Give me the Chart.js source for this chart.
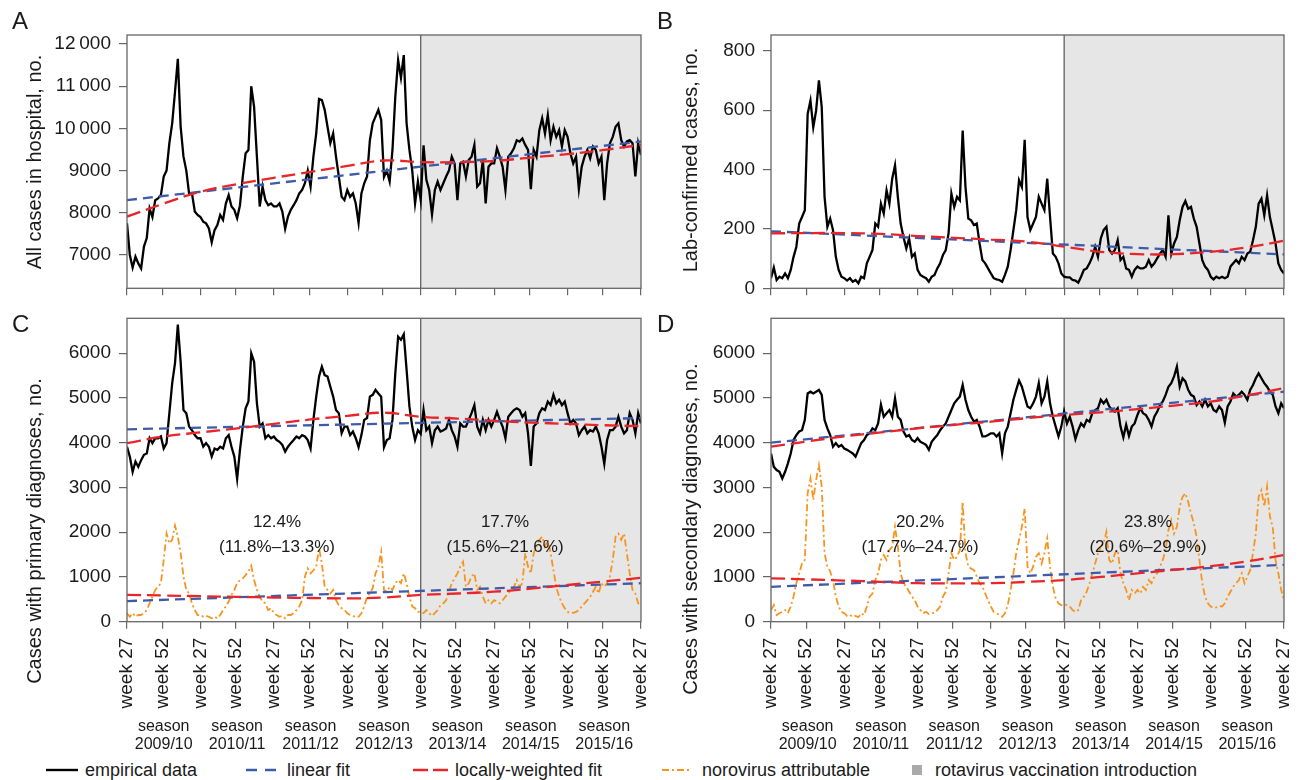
<!DOCTYPE html>
<html>
<head>
<meta charset="utf-8">
<script src="https://cdn.jsdelivr.net/npm/chart.js@4.4.1/dist/chart.umd.min.js"></script>
<style>
  body { margin: 0; background: #fff; font-family: 'Liberation Sans', Arial, Helvetica, sans-serif; color: #1a1a1a; }
  #fig { position: relative; width: 1298px; height: 780px; overflow: hidden; }
  canvas { position: absolute; }
  .t { position: absolute; white-space: nowrap; line-height: 1; }
  .letter { font-size: 24px; line-height: 24px; }
  .ytitle { font-size: 20px; line-height: 20px; transform: translate(-50%, -50%) rotate(-90deg); }
  .note { font-size: 17px; line-height: 25px; text-align: center; transform: translateX(-50%); }
  .season { font-size: 16px; line-height: 18px; text-align: center; transform: translateX(-50%); }
  .leg { font-size: 18px; line-height: 20px; top: 760px; }
  svg { position: absolute; }
</style>
</head>
<body>
<div id="fig">
  <canvas id="chartA" width="649" height="300" style="left:0;top:0"></canvas>
  <canvas id="chartB" width="649" height="300" style="left:649px;top:0"></canvas>
  <canvas id="chartC" width="649" height="420" style="left:0;top:300px"></canvas>
  <canvas id="chartD" width="649" height="420" style="left:649px;top:300px"></canvas>

  <div class="t letter" style="left:12px;top:9px">A</div>
  <div class="t letter" style="left:657px;top:9px">B</div>
  <div class="t letter" style="left:12px;top:312px">C</div>
  <div class="t letter" style="left:657px;top:312px">D</div>

  <div class="t ytitle" style="left:34px;top:162px">All cases in hospital, no.</div>
  <div class="t ytitle" style="left:690px;top:160px">Lab-confirmed cases, no.</div>
  <div class="t ytitle" style="left:34px;top:531px">Cases with primary diagnoses, no.</div>
  <div class="t ytitle" style="left:690px;top:529px">Cases with secondary diagnoses, no.</div>

  <div class="t note" style="left:277px;top:509px">12.4%<br>(11.8%–13.3%)</div>
  <div class="t note" style="left:505px;top:509px">17.7%<br>(15.6%–21.6%)</div>
  <div class="t note" style="left:920px;top:509px">20.2%<br>(17.7%–24.7%)</div>
  <div class="t note" style="left:1148px;top:509px">23.8%<br>(20.6%–29.9%)</div>

  <div id="seasonRow"></div>

  <svg style="left:46px;top:760px" width="34" height="20"><line x1="0" y1="10" x2="32" y2="10" stroke="#000" stroke-width="2.4"/></svg>
  <div class="t leg" style="left:85px">empirical data</div>
  <svg style="left:246px;top:760px" width="32" height="20"><line x1="0" y1="10" x2="30" y2="10" stroke="#3d5ba9" stroke-width="2.4" stroke-dasharray="11 8"/></svg>
  <div class="t leg" style="left:287px">linear fit</div>
  <svg style="left:413px;top:760px" width="38" height="20"><line x1="0" y1="10" x2="35" y2="10" stroke="#e8262a" stroke-width="2.4" stroke-dasharray="15 5"/></svg>
  <div class="t leg" style="left:455px">locally-weighted fit</div>
  <svg style="left:662px;top:760px" width="32" height="20"><line x1="0" y1="10" x2="29" y2="10" stroke="#f7941d" stroke-width="2" stroke-dasharray="7 3 2 3"/></svg>
  <div class="t leg" style="left:702px">norovirus attributable</div>
  <svg style="left:912px;top:760px" width="12" height="20"><rect x="0" y="5" width="10" height="10" fill="#aaaaaa"/></svg>
  <div class="t leg" style="left:935px">rotavirus vaccination introduction</div>
</div>

<script>
// x = weeks since week 27 of 2009, values read every second week
var weekStep = 2;
var lastWeek = 364;
var vaccStart = 208;   // week 27 of 2013
var tickWeeks = [0, 25, 52, 77, 104, 129, 156, 181, 208, 233, 260, 285, 312, 337, 364];
var tickLabels = ['week 27', 'week 52', 'week 27', 'week 52', 'week 27', 'week 52', 'week 27', 'week 52',
                  'week 27', 'week 52', 'week 27', 'week 52', 'week 27', 'week 52', 'week 27'];
var seasons = ['2009/10', '2010/11', '2011/12', '2012/13', '2013/14', '2014/15', '2015/16'];

var ticksA = [7000, 8000, 9000, 10000, 11000, 12000];
var ticksB = [0, 200, 400, 600, 800];
var ticksCD = [0, 1000, 2000, 3000, 4000, 5000, 6000];

// A: all cases in hospital
var allCases = [
  7750, 7000, 6700, 6960, 6800, 6680, 7200, 7400, 8100, 7900, 8300, 8340, 8420, 8860, 9000, 9650, 10120, 10870, 11650, 10040, 9330, 9000, 8450, 8460, 8030, 7950,
  7900, 7790, 7750, 7630, 7300, 7590, 7710, 7950, 7830, 8220, 8420, 8150, 8070, 7870, 8180, 8860, 9410, 9490, 11000, 10510, 9330, 8150, 8620, 8300, 8180, 8220,
  8150, 8150, 8220, 8030, 7620, 7910, 8070, 8180, 8300, 8460, 8540, 8700, 9000, 8620, 9330, 9880, 10700, 10670, 10440, 10040, 9650, 9880, 9330, 8860, 8380, 8300,
  8540, 8380, 8460, 8220, 7760, 8460, 8700, 8860, 9720, 10120, 10280, 10440, 10200, 8850, 9000, 8740, 9490, 10750, 11620, 11200, 11740, 10120, 9490, 9000, 8220, 8740,
  8300, 9600, 8780, 8540, 7960, 8540, 8740, 8540, 8700, 8860, 9000, 9330, 9170, 8300, 9170, 9210, 8860, 9250, 9330, 9610, 8620, 8700, 9250, 8220, 9090, 9170,
  9170, 9530, 9330, 9090, 8540, 9330, 9410, 9530, 9720, 9690, 9760, 9610, 9490, 8560, 9490, 9330, 9960, 10240, 9880, 10320, 9720, 10040, 9800, 9960, 9570, 9960,
  9800, 9410, 9170, 9330, 8560, 9090, 9330, 9490, 9290, 9570, 9490, 9170, 9330, 8300, 9170, 9650, 9800, 10040, 10120, 9720, 9570, 9690, 9720, 9650, 8860, 9650, 9370
];
// B: lab-confirmed cases
var labCases = [
  34, 70, 28, 39, 34, 50, 34, 62, 106, 140, 218, 240, 263, 587, 632, 542, 598, 700, 610, 308, 207, 235, 196, 106, 62, 39,
  34, 26, 34, 22, 28, 17, 39, 34, 84, 106, 129, 218, 207, 285, 252, 330, 285, 369, 414, 308, 218, 173, 134, 168, 106, 117,
  62, 45, 39, 34, 22, 39, 45, 67, 84, 112, 129, 185, 319, 274, 308, 296, 531, 341, 235, 229, 213, 218, 151, 95, 84, 67,
  50, 34, 30, 28, 22, 45, 73, 129, 196, 263, 364, 341, 500, 240, 196, 218, 240, 308, 285, 263, 369, 240, 117, 106, 84, 50,
  39, 37, 37, 28, 26, 19, 39, 62, 67, 84, 106, 140, 106, 168, 196, 207, 129, 117, 129, 162, 95, 106, 67, 62, 39, 62,
  73, 67, 67, 73, 95, 73, 84, 101, 117, 129, 106, 246, 117, 151, 173, 229, 274, 294, 268, 274, 235, 207, 151, 95, 73, 62,
  39, 30, 39, 34, 39, 34, 39, 73, 84, 95, 84, 106, 95, 117, 123, 162, 207, 285, 302, 246, 313, 240, 196, 151, 84, 62, 50
];
// C: primary diagnoses and norovirus attributable part
var primaryCases = [
  3910, 3690, 3350, 3580, 3460, 3610, 3730, 3760, 4100, 3990, 4100, 4100, 4140, 3870, 3990, 4660, 5330, 5780, 6640, 5800, 4730, 4660, 4360, 4280, 4170, 4100,
  4100, 3910, 3990, 3910, 3690, 3870, 3840, 3910, 3870, 4100, 4170, 3910, 3690, 3190, 3840, 4360, 4770, 4920, 6000, 5810, 4880, 4360, 4430, 4100, 4170, 4100,
  4140, 4060, 4020, 3950, 3800, 3910, 3990, 4060, 4140, 4100, 4170, 4140, 4060, 3870, 4510, 5030, 5480, 5700, 5510, 5480, 5250, 5030, 4730, 4660, 4210, 4360,
  4360, 4170, 4250, 4100, 3900, 4170, 4510, 4550, 5030, 5070, 5180, 5100, 5030, 3900, 4060, 4100, 4510, 5550, 6370, 6300, 6420, 5630, 4810, 4360, 4060, 4280,
  4200, 4730, 4280, 4360, 3990, 4280, 4360, 4250, 4280, 4320, 4510, 4280, 4140, 3910, 4430, 4360, 4360, 4510, 4660, 4840, 4360, 4210, 4510, 4280, 4510, 4360,
  4510, 4690, 4510, 4360, 4100, 4580, 4660, 4730, 4770, 4730, 4580, 4660, 4210, 3480, 4360, 4430, 4660, 4770, 4730, 4920, 4840, 5070, 4880, 4960, 4840, 4920,
  4660, 4430, 4510, 4430, 4170, 4280, 4360, 4210, 4280, 4250, 4360, 4210, 3910, 3530, 4060, 4280, 4280, 4360, 4580, 4360, 4210, 4280, 4660, 4510, 4210, 4660, 4430
];
var primaryNoro = [
  190, 110, 190, 110, 150, 150, 190, 260, 410, 560, 710, 780, 860, 1380, 1970, 1750, 1830, 2150, 1900, 1530, 1010, 710, 630, 410, 260, 150,
  150, 110, 130, 110, 75, 110, 75, 150, 260, 340, 450, 600, 710, 860, 930, 970, 1040, 1120, 1250, 930, 710, 560, 450, 410, 260, 300,
  190, 150, 110, 130, 75, 150, 150, 190, 260, 340, 480, 1010, 1190, 1080, 1150, 1230, 1640, 1300, 780, 710, 630, 710, 480, 370, 300, 260,
  190, 150, 130, 100, 110, 190, 340, 560, 630, 750, 1080, 1230, 1560, 710, 670, 780, 710, 860, 930, 860, 1080, 860, 560, 340, 300, 220,
  230, 190, 260, 190, 130, 190, 260, 370, 410, 480, 670, 860, 970, 1080, 1230, 1340, 780, 860, 1010, 1080, 710, 780, 560, 410, 480, 410,
  480, 450, 410, 480, 560, 630, 710, 780, 930, 780, 860, 1530, 1230, 1080, 1530, 1680, 1830, 1900, 1680, 1830, 1530, 1150, 780, 560, 410, 300,
  220, 190, 200, 220, 260, 340, 410, 480, 560, 670, 780, 630, 860, 780, 860, 1010, 1380, 1900, 1970, 1830, 1970, 1530, 1080, 710, 630, 410, 340
];
// D: secondary diagnoses and norovirus attributable part
var secondaryCases = [
  3760, 3460, 3390, 3350, 3200, 3350, 3540, 3760, 4060, 4170, 4250, 4280, 4510, 5100, 5140, 5100, 5140, 5180, 5070, 4510, 4320, 4170, 3910, 3990, 3910, 3950,
  3870, 3840, 3800, 3760, 3690, 3840, 3990, 4060, 4170, 4210, 4320, 4280, 4430, 4850, 4580, 4660, 4730, 4580, 4990, 4580, 4510, 4250, 4140, 4170, 4060, 4020,
  4100, 4020, 3990, 3950, 3840, 4020, 4100, 4170, 4280, 4360, 4430, 4580, 4730, 4880, 4960, 5030, 5290, 4960, 4730, 4580, 4470, 4510, 4360, 4140, 4140, 4170,
  4210, 4210, 4140, 4210, 3760, 4210, 4360, 4660, 4960, 5180, 5390, 5250, 5030, 4810, 4770, 4880, 5030, 5330, 4880, 5030, 5370, 4880, 4580, 4360, 4140, 4360,
  4700, 4430, 4580, 4360, 4080, 4280, 4430, 4360, 4510, 4470, 4660, 4730, 4770, 4960, 4880, 4960, 4810, 4730, 4690, 4770, 4360, 4120, 4400, 4150, 4360, 4430,
  4620, 4770, 4660, 4620, 4510, 4360, 4580, 4690, 4840, 4920, 5070, 5250, 5330, 5480, 5700, 5250, 5440, 5370, 5180, 5070, 5030, 4840, 4920, 4810, 4960, 4810,
  4880, 4730, 4690, 4810, 4730, 4450, 4810, 4920, 5100, 5030, 5070, 5140, 5070, 4960, 5180, 5290, 5440, 5550, 5440, 5330, 5250, 5140, 5070, 4810, 4660, 4880, 4770
];
var secondaryNoro = [
  260, 370, 150, 190, 220, 260, 190, 340, 560, 860, 1080, 1300, 1380, 2870, 3200, 2720, 3170, 3500, 3020, 1530, 1230, 1120, 930, 560, 340, 220,
  190, 130, 150, 110, 130, 100, 190, 150, 340, 560, 630, 930, 1080, 1380, 1490, 1380, 1600, 1680, 2120, 1680, 1080, 860, 780, 670, 560, 480,
  340, 260, 190, 220, 170, 190, 190, 260, 340, 560, 670, 1080, 1530, 1380, 1450, 1600, 2680, 1530, 1230, 1190, 1150, 1010, 860, 780, 630, 480,
  340, 220, 190, 150, 110, 190, 370, 710, 1080, 1530, 1830, 2120, 2530, 1230, 1080, 1230, 1450, 1530, 1300, 1530, 1860, 1230, 780, 520, 410, 370,
  390, 370, 340, 260, 220, 260, 480, 560, 670, 860, 1080, 1300, 1530, 1680, 1750, 2010, 1380, 1300, 1530, 1600, 1080, 860, 710, 480, 710, 630,
  710, 630, 780, 710, 930, 860, 1010, 1080, 1230, 1380, 1600, 2050, 2270, 1970, 2120, 2570, 2790, 2870, 2680, 2420, 2200, 1900, 1380, 860, 560, 410,
  340, 300, 320, 350, 340, 410, 560, 670, 780, 860, 930, 1080, 860, 1010, 1150, 1530, 1970, 2790, 2940, 2570, 3020, 2350, 2120, 1380, 1080, 710, 480
];

// fitted curves
var linWeeks = [0, 364];
var linA = [8300, 9690];
var linB = [192, 114];
var linC = [4300, 4550];
var linCNoro = [460, 860];
var linD = [4000, 5140];
var linDNoro = [780, 1270];

var loessWeeks = [0, 26, 52, 78, 104, 130, 156, 182, 208, 234, 260, 286, 312, 338, 364];
var loessA = [7910, 8220, 8500, 8680, 8830, 8970, 9110, 9240, 9200, 9200, 9230, 9310, 9390, 9490, 9610];
var loessB = [185, 186, 186, 183, 176, 170, 164, 157, 140, 123, 115, 115, 123, 138, 160];
var loessC = [3990, 4140, 4230, 4320, 4420, 4520, 4600, 4670, 4580, 4540, 4490, 4450, 4420, 4390, 4370];
var loessCNoro = [600, 585, 570, 555, 540, 530, 520, 540, 600, 630, 670, 740, 820, 900, 980];
var loessD = [3910, 4030, 4140, 4230, 4320, 4400, 4470, 4550, 4620, 4680, 4750, 4830, 4920, 5060, 5220];
var loessDNoro = [970, 945, 920, 890, 860, 855, 860, 890, 930, 1000, 1080, 1160, 1240, 1350, 1490];

var FONT = "'Liberation Sans', Arial, Helvetica, sans-serif";

function weekly(values) {
  return values.map(function (v, i) { return {x: i * weekStep, y: v}; });
}
function knots(weeks, values) {
  return weeks.map(function (w, i) { return {x: w, y: values[i]}; });
}
function empirical(values) {
  return {data: weekly(values), borderColor: '#000', borderWidth: 2.3};
}
function noro(values) {
  return {data: weekly(values), borderColor: '#f7941d', borderWidth: 1.8, borderDash: [7, 3, 2, 3]};
}
function linFit(values) {
  return {data: knots(linWeeks, values), borderColor: '#3d5ba9', borderWidth: 2.3, borderDash: [10, 6]};
}
function loessFit(values) {
  return {data: knots(loessWeeks, values), borderColor: '#e8262a', borderWidth: 2.3, borderDash: [14, 6], tension: 0.4};
}

// grey vaccination period + plot frame
var framePlugin = {
  id: 'frame',
  beforeDatasetsDraw: function (chart) {
    var a = chart.chartArea, ctx = chart.ctx;
    var x0 = chart.scales.x.getPixelForValue(vaccStart);
    ctx.save();
    ctx.fillStyle = '#e6e6e6';
    ctx.fillRect(x0, a.top, a.right - x0, a.bottom - a.top);
    ctx.strokeStyle = '#555';
    ctx.lineWidth = 1.2;
    ctx.beginPath();
    ctx.moveTo(x0, a.top);
    ctx.lineTo(x0, a.bottom);
    ctx.stroke();
    ctx.restore();
  },
  afterDraw: function (chart) {
    var a = chart.chartArea, ctx = chart.ctx;
    ctx.save();
    ctx.strokeStyle = '#666';
    ctx.lineWidth = 1.3;
    ctx.strokeRect(a.left, a.top, a.right - a.left, a.bottom - a.top);
    ctx.restore();
  }
};

function makeChart(id, datasets, cfg) {
  return new Chart(document.getElementById(id), {
    type: 'line',
    data: {datasets: datasets},
    options: {
      responsive: false,
      animation: false,
      layout: {padding: {top: cfg.padTop, right: cfg.padRight, left: 0, bottom: 0}},
      elements: {point: {radius: 0}, line: {fill: false}},
      plugins: {legend: {display: false}, tooltip: {enabled: false}},
      scales: {
        x: {
          type: 'linear', min: 0, max: lastWeek,
          afterBuildTicks: function (s) { s.ticks = tickWeeks.map(function (w) { return {value: w}; }); },
          afterFit: function (s) { s.height = cfg.xHeight; s.paddingLeft = 0; s.paddingRight = 0; },
          grid: {drawOnChartArea: false, tickLength: 7, color: '#666', lineWidth: 1.2},
          border: {display: false},
          ticks: {
            display: cfg.weekLabels, autoSkip: false, minRotation: 90, maxRotation: 90, padding: 9,
            color: '#1a1a1a', font: {family: FONT, size: 19},
            callback: function (v, i) { return tickLabels[i]; }
          }
        },
        y: {
          min: cfg.yMin, max: cfg.yMax,
          afterBuildTicks: function (s) { s.ticks = cfg.yTicks.map(function (v) { return {value: v}; }); },
          afterFit: function (s) { s.width = cfg.axisWidth; s.paddingTop = 0; s.paddingBottom = 0; },
          grid: {drawOnChartArea: false, tickLength: 8, color: '#666', lineWidth: 1.2},
          border: {display: false},
          ticks: {
            padding: 8, color: '#1a1a1a', font: {family: FONT, size: 19},
            callback: function (v) {
              return v >= 10000 ? String(v).replace(/(\d+)(\d{3})$/, '$1\u2009$2') : String(v);
            }
          }
        }
      }
    },
    plugins: [framePlugin]
  });
}

makeChart('chartA', [loessFit(loessA), linFit(linA), empirical(allCases)],
  {padTop: 35, padRight: 8, axisWidth: 127, xHeight: 11.7, weekLabels: false, yMin: 6210, yMax: 12215, yTicks: ticksA});
makeChart('chartB', [loessFit(loessB), linFit(linB), empirical(labCases)],
  {padTop: 35, padRight: 14, axisWidth: 122, xHeight: 11.7, weekLabels: false, yMin: 0, yMax: 853, yTicks: ticksB});
makeChart('chartC', [loessFit(loessC), linFit(linC), loessFit(loessCNoro), linFit(linCNoro), noro(primaryNoro), empirical(primaryCases)],
  {padTop: 18.3, padRight: 8, axisWidth: 127, xHeight: 98.3, weekLabels: true, yMin: 0, yMax: 6780, yTicks: ticksCD});
makeChart('chartD', [loessFit(loessD), linFit(linD), loessFit(loessDNoro), linFit(linDNoro), noro(secondaryNoro), empirical(secondaryCases)],
  {padTop: 18.3, padRight: 14, axisWidth: 122, xHeight: 98.3, weekLabels: true, yMin: 0, yMax: 6780, yTicks: ticksCD});

// season captions under the lower panels
var row = document.getElementById('seasonRow');
[[127, 514], [771, 513]].forEach(function (p) {
  seasons.forEach(function (s, k) {
    var d = document.createElement('div');
    d.className = 't season';
    d.style.left = (p[0] + p[1] / seasons.length * (k + 0.5)) + 'px';
    d.style.top = '717px';
    d.innerHTML = 'season<br>' + s;
    row.appendChild(d);
  });
});
</script>
</body>
</html>
